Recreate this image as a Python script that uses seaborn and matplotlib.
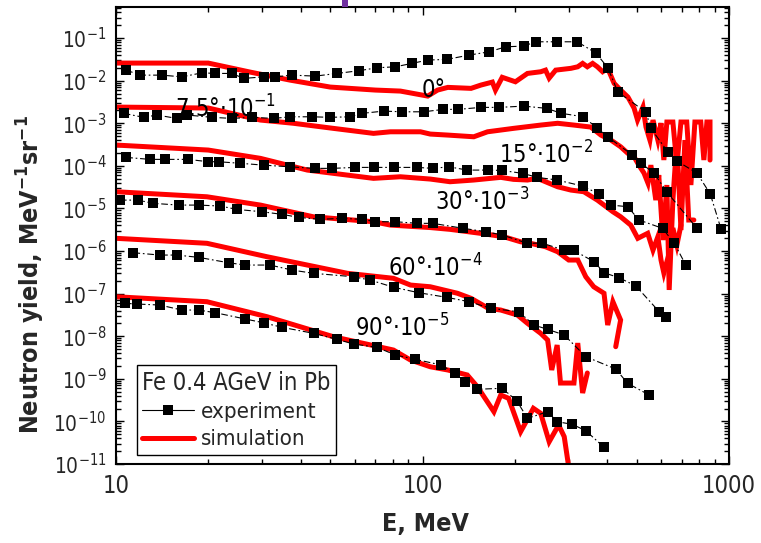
import os
import numpy as np
import pandas as pd
import matplotlib
matplotlib.use("Agg")
import matplotlib.pyplot as plt
import seaborn as sns
from matplotlib import font_manager
from matplotlib.font_manager import FontProperties
from matplotlib.lines import Line2D
from matplotlib.patches import Rectangle
from matplotlib.ticker import LogLocator, FuncFormatter, NullFormatter, FixedLocator

# ---------------- experiment (black squares) ----------------
exp_E_0 = [10.8, 12.0, 14.1, 16.4, 19.1, 21.1, 23.9, 26.1, 30.3, 33.1, 37.5, 44.7, 52.6, 61.9, 71.1, 81.6,
           92.5, 104, 120, 142, 165, 187, 214, 234, 275, 320, 368, 402, 434, 536, 556, 632, 676, 786, 869, 942]
exp_Y_0 = [1.77e-2, 1.35e-2, 1.35e-2, 1.23e-2, 1.53e-2, 1.48e-2, 1.48e-2, 1.13e-2, 1.23e-2, 1.23e-2,
           1.35e-2, 1.28e-2, 1.48e-2, 1.71e-2, 2.01e-2, 2.12e-2, 2.55e-2, 3.05e-2, 3.16e-2, 3.99e-2,
           4.77e-2, 6.25e-2, 6.49e-2, 8.19e-2, 8.19e-2, 8.19e-2, 4.45e-2, 2.03e-2, 5.40e-3, 1.83e-3,
           7.59e-4, 2.11e-4, 1.30e-4, 6.78e-5, 2.18e-5, 3.28e-6]

exp_E_7 = [10.6, 12.3, 13.6, 15.8, 17.1, 20.5, 23.9, 27.8, 32.7, 37.0, 43.6, 50.0, 58.2, 63.5, 74.7, 85.9,
           101, 117, 131, 155, 178, 214, 254, 284, 335, 372, 402, 484, 516, 570, 627, 786]
exp_Y_7 = [1.71e-3, 1.38e-3, 1.56e-3, 1.30e-3, 1.56e-3, 1.38e-3, 1.30e-3, 1.38e-3, 1.30e-3, 1.42e-3,
           1.42e-3, 1.38e-3, 1.42e-3, 1.71e-3, 1.93e-3, 1.86e-3, 1.86e-3, 2.12e-3, 2.12e-3, 2.36e-3,
           2.36e-3, 2.53e-3, 2.24e-3, 1.71e-3, 1.42e-3, 7.59e-4, 4.82e-4, 1.79e-4, 1.16e-4, 6.67e-5,
           2.43e-5, 3.41e-6]

exp_E_15 = [10.8, 12.9, 14.5, 17.2, 20.0, 21.6, 25.4, 30.3, 37.0, 44.7, 50.7, 60.4, 69.3, 80.5, 96.1, 108,
            122, 140, 163, 182, 212, 237, 275, 333, 377, 412, 467, 509, 607, 663, 723]
exp_Y_15 = [1.58e-4, 1.42e-4, 1.42e-4, 1.42e-4, 1.25e-4, 1.25e-4, 1.15e-4, 1.04e-4, 9.5e-5, 8.73e-5,
            8.73e-5, 9.2e-5, 9.2e-5, 9.2e-5, 9.2e-5, 8.73e-5, 9.5e-5, 7.96e-5, 7.96e-5, 7.8e-5,
            6.67e-5, 5.37e-5, 4.65e-5, 3.36e-5, 2.18e-5, 1.2e-5, 1.1e-5, 5.35e-6, 3.41e-6, 1.52e-6, 4.69e-7]

exp_E_30 = [10.3, 11.8, 13.2, 16.0, 18.6, 21.9, 24.8, 29.9, 34.8, 39.4, 46.4, 54.7, 63.5, 70.2, 81.6, 96.1,
            108, 136, 161, 182, 220, 245, 290, 312, 363, 391, 438, 497, 592, 622]
exp_Y_30 = [1.57e-5, 1.57e-5, 1.32e-5, 1.20e-5, 1.20e-5, 1.14e-5, 9.5e-6, 8.37e-6, 7.28e-6, 6.18e-6,
            5.55e-6, 5.86e-6, 5.55e-6, 4.88e-6, 4.88e-6, 4.47e-6, 4.47e-6, 3.41e-6, 2.84e-6, 2.38e-6,
            1.52e-6, 1.54e-6, 1.05e-6, 1.03e-6, 5.61e-7, 3.1e-7, 2.36e-7, 1.51e-7, 3.76e-8, 2.87e-8]

exp_E_60 = [11.4, 13.9, 15.8, 18.6, 23.3, 26.4, 31.8, 37.5, 44.1, 59.6, 67.6, 80.5, 97.3, 120, 142, 167,
            206, 231, 256, 290, 341, 427, 467, 549]
exp_Y_60 = [9.12e-7, 8.05e-7, 8.05e-7, 7.11e-7, 5.31e-7, 4.69e-7, 4.69e-7, 3.58e-7, 3.0e-7, 2.49e-7,
            2.08e-7, 1.41e-7, 1.05e-7, 8.18e-8, 6.46e-8, 4.52e-8, 3.76e-8, 1.83e-8, 1.45e-8, 1.07e-8,
            3.3e-9, 1.7e-9, 7.83e-10, 4.17e-10]

exp_E_90 = [10.7, 11.7, 13.9, 16.4, 18.6, 21.1, 26.4, 30.3, 34.8, 44.1, 52.6, 59.6, 71.1, 81.6, 94.8, 115,
            128, 138, 151, 182, 203, 220, 256, 275, 308, 341, 391]
exp_Y_90 = [5.92e-8, 5.7e-8, 5.4e-8, 4.12e-8, 4.12e-8, 3.56e-8, 2.54e-8, 2.07e-8, 1.62e-8, 1.17e-8,
            8.46e-9, 6.56e-9, 5.48e-9, 3.62e-9, 2.87e-9, 2.11e-9, 1.35e-9, 8.55e-10, 5.68e-10, 5.99e-10,
            3.06e-10, 1.18e-10, 1.69e-10, 9.84e-11, 8.55e-11, 6.05e-11, 2.47e-11]

# ---------------- simulation (red lines) ----------------
sim_E_0 = [10, 20.0, 27.4, 37.0, 50.0, 70.2, 84.7, 104, 112, 121, 144, 155, 169, 173, 182, 201, 220, 243,
           252, 259, 272, 305, 321, 333, 345, 359, 372, 387, 402, 422, 443, 468, 490, 503, 524, 536, 552,
           565, 586, 600, 613, 627, 656, 676, 697, 728, 751, 774, 809, 828, 847, 867, 867]
sim_Y_0 = [2.59e-2, 2.59e-2, 1.59e-2, 1.03e-2, 7.08e-3, 6.02e-3, 5.70e-3, 4.35e-3, 6.02e-3, 6.96e-3,
           6.6e-3, 7.88e-3, 9.27e-3, 6.02e-3, 1.2e-2, 9.42e-3, 1.48e-2, 1.62e-2, 1.77e-2, 1.15e-2,
           1.77e-2, 1.95e-2, 2.12e-2, 2.55e-2, 2.12e-2, 2.55e-2, 2.12e-2, 1.62e-2, 1.95e-2, 8.64e-3,
           6.02e-3, 4.12e-3, 2.28e-3, 1.19e-3, 2.4e-3, 8.15e-4, 4.03e-4, 1.19e-3, 4.03e-4, 1.01e-3,
           1.37e-4, 1.07e-3, 1.07e-3, 1.04e-4, 1.07e-3, 1.07e-3, 3.55e-5, 1.07e-3, 1.07e-3, 1.37e-4,
           1.07e-3, 1.07e-3, 1.37e-4]

sim_E_7 = [10, 20.0, 29.6, 37.9, 51.2, 69.2, 78.6, 98.5, 106, 121, 147, 163, 198, 243, 276, 312, 354, 382,
           412, 443, 468, 490, 508, 528, 544, 556, 577, 590, 609, 627, 638, 656, 676, 697, 718, 739, 768]
sim_Y_7 = [2.4e-3, 2.28e-3, 1.19e-3, 1.0e-3, 7.59e-4, 5.79e-4, 6.31e-4, 6.31e-4, 5.58e-4, 5.28e-4,
           4.82e-4, 6.31e-4, 7.59e-4, 9.07e-4, 1.0e-3, 9.07e-4, 8.15e-4, 5.28e-4, 4.03e-4, 2.81e-4,
           1.96e-4, 1.64e-4, 1.04e-4, 6.78e-5, 3.94e-5, 1.04e-4, 1.57e-5, 6.08e-5, 1.81e-6, 3.55e-5,
           1.22e-7, 1.57e-5, 4.03e-4, 3.11e-6, 4.03e-4, 5.35e-6, 5.35e-6]

sim_E_15 = [10, 20.0, 29.6, 42.1, 69.2, 84.7, 106, 123, 147, 180, 198, 220, 237, 276, 305, 336, 372, 391,
            418, 443, 478, 504, 543, 565, 586, 600, 613, 638, 656, 676, 697]
sim_Y_15 = [3.08e-4, 2.35e-4, 1.5e-4, 7.96e-5, 5.09e-5, 5.55e-5, 4.9e-5, 4.24e-5, 4.65e-5, 5.37e-5,
            4.82e-5, 4.65e-5, 5.09e-5, 3.23e-5, 2.7e-5, 2.47e-5, 1.57e-5, 1.2e-5, 8.37e-6, 6.38e-6,
            4.07e-6, 1.99e-6, 2.61e-6, 1.05e-6, 2.17e-6, 6.15e-7, 3.05e-7, 8.97e-7, 3.47e-6, 1.38e-6, 4.07e-6]

sim_E_30 = [10, 19.8, 29.6, 44.0, 69.2, 78.6, 106, 123, 155, 184, 209, 225, 252, 276, 300, 321, 341, 362,
            391, 402, 418, 443, 427]
sim_Y_30 = [2.47e-5, 1.88e-5, 1.2e-5, 6.38e-6, 4.88e-6, 4.07e-6, 3.56e-6, 3.23e-6, 2.6e-6, 2.17e-6,
            1.65e-6, 1.52e-6, 1.26e-6, 9.63e-7, 6.15e-7, 6.15e-7, 2.49e-7, 1.45e-7, 1.02e-7, 1.83e-8,
            6.46e-8, 2.4e-8, 5.68e-9]

sim_E_60 = [10, 19.8, 31.1, 56.9, 80.4, 91.4, 106, 130, 144, 164, 180, 204, 220, 243, 256, 264, 275, 282,
            312, 321, 333, 345]
sim_Y_60 = [1.99e-6, 1.52e-6, 7.35e-7, 3.0e-7, 2.29e-7, 1.59e-7, 1.45e-7, 1.02e-7, 7.76e-8, 4.52e-8,
            4.12e-8, 3.15e-8, 2.01e-8, 1.17e-8, 8.15e-9, 1.61e-9, 6.21e-9, 7.96e-10, 7.96e-10, 6.92e-9,
            4.64e-10, 1.37e-9]

sim_E_90 = [10, 19.8, 31.1, 51.2, 80.4, 91.4, 106, 121, 140, 151, 171, 180, 191, 209, 230, 243, 259, 278,
            290, 301]
sim_Y_90 = [8.45e-8, 6.46e-8, 2.87e-8, 9.73e-9, 4.74e-9, 2.76e-9, 1.92e-9, 1.61e-9, 1.23e-9, 6.53e-10,
            1.69e-10, 4.17e-10, 3.48e-10, 5.73e-11, 2.03e-10, 1.55e-10, 3.33e-11, 8.22e-11, 4.38e-11, 7.2e-12]

# ---------------- labels ----------------
angle_labels = ["0°", "7.5°·10$^{-1}$", "15°·10$^{-2}$", "30°·10$^{-3}$", "60°·10$^{-4}$", "90°·10$^{-5}$"]
label_E = [109, 22.7, 254, 157, 110, 86]
label_Y = [6.0e-3, 2.2e-3, 1.8e-4, 1.41e-5, 3.98e-7, 1.55e-8]
x_ticks = [10, 100, 1000]
legend_title = "Fe 0.4 AGeV in Pb"
legend_labels = ["experiment", "simulation"]
x_title = "E, MeV"
y_title = r"Neutron yield, MeV$^{\mathbf{-1}}$sr$^{\mathbf{-1}}$"

exp_sets = [(exp_E_0, exp_Y_0), (exp_E_7, exp_Y_7), (exp_E_15, exp_Y_15),
            (exp_E_30, exp_Y_30), (exp_E_60, exp_Y_60), (exp_E_90, exp_Y_90)]
sim_sets = [(sim_E_0, sim_Y_0), (sim_E_7, sim_Y_7), (sim_E_15, sim_Y_15),
            (sim_E_30, sim_Y_30), (sim_E_60, sim_Y_60), (sim_E_90, sim_Y_90)]

# ---------------- style ----------------
sns.set_theme(style="ticks")

cond = None
for f in font_manager.fontManager.ttflist:
    if os.path.basename(f.fname) == "DejaVuSansCondensed.ttf":
        cond = f
        break
if cond is not None:
    FAM, STR, K = cond.name, str(cond.stretch), 1.0
else:
    FAM, STR, K = "DejaVu Sans", "normal", 0.88

pat = f"{FAM}:stretch={STR}"
plt.rcParams.update({
    "font.family": [FAM],
    "font.stretch": STR,
    "mathtext.fontset": "custom",
    "mathtext.rm": pat,
    "mathtext.it": pat,
    "mathtext.sf": pat,
    "mathtext.bf": f"{FAM}:bold:stretch={STR}",
    "axes.facecolor": "white",
    "figure.facecolor": "white",
})

RED = "#ff0000"
fig = plt.figure(figsize=(7.61, 5.43), dpi=100)
ax = fig.add_axes([116 / 761, 1 - 464 / 543, (729 - 116) / 761, (464 - 7) / 543])
ax.set_xscale("log")
ax.set_yscale("log")

for E, Y in sim_sets:
    sns.lineplot(x=E, y=Y, ax=ax, color=RED, linewidth=3.6, sort=False, estimator=None,
                 solid_joinstyle="miter", zorder=2)
for E, Y in exp_sets:
    sns.lineplot(x=E, y=Y, ax=ax, color="black", linewidth=0.8, linestyle=(0, (6, 2.5, 1.5, 2.5)),
                 marker="s", markersize=6.5, markeredgewidth=0, markerfacecolor="black",
                 sort=False, estimator=None, zorder=3)

ax.set_xlim(10, 1000)
ax.set_ylim(1e-11, 10 ** -0.27)

ax.xaxis.set_major_locator(FixedLocator(x_ticks))
ax.xaxis.set_major_formatter(FuncFormatter(lambda v, p: f"{v:g}"))
ax.xaxis.set_minor_locator(LogLocator(base=10, subs=np.arange(2, 10), numticks=50))
ax.xaxis.set_minor_formatter(NullFormatter())
ax.yaxis.set_major_locator(LogLocator(base=10, numticks=40))
ax.yaxis.set_major_formatter(FuncFormatter(lambda v, p: rf"$10^{{{int(round(np.log10(v)))}}}$"))
ax.yaxis.set_minor_locator(LogLocator(base=10, subs=np.arange(2, 10), numticks=300))
ax.yaxis.set_minor_formatter(NullFormatter())

ax.tick_params(which="both", direction="in", top=True, right=True, color="black", width=1.0)
ax.tick_params(which="major", length=6)
ax.tick_params(which="minor", length=3.5)
ax.tick_params(axis="y", which="major", labelsize=15 * K, pad=7)
ax.tick_params(axis="x", which="major", labelsize=17 * K, pad=7)
for s in ax.spines.values():
    s.set_linewidth(1.5)
    s.set_color("black")
ax.grid(False)

fp_bold = FontProperties(family=FAM, stretch=STR, weight="bold", size=18 * K)
ax.set_xlabel(x_title, fontproperties=fp_bold)
ax.set_ylabel(y_title, fontproperties=fp_bold)
ax.xaxis.set_label_coords(0.504, -0.105)
ax.yaxis.set_label_coords(-0.112, 0.414)

for lab, e, y in zip(angle_labels, label_E, label_Y):
    ax.text(e, y, lab, ha="center", va="center", fontsize=17 * K, color="black", zorder=4)

handles = [Line2D([], [], color="black", lw=0.8, marker="s", markersize=6.5, markeredgewidth=0),
           Line2D([], [], color=RED, lw=3.6)]
leg = ax.legend(handles, legend_labels, title=legend_title, loc="lower left",
                bbox_to_anchor=(0.034, 0.02), borderaxespad=0, frameon=True, fancybox=False,
                edgecolor="black", framealpha=1, fontsize=16 * K, title_fontsize=17 * K,
                handlelength=2.3, handletextpad=0.35, labelspacing=0.33, borderpad=0.25,
                alignment="left")
leg.get_frame().set_linewidth(1.0)
leg.set_zorder(5)

fig.patches.append(Rectangle((341.7 / 761, 1 - 7 / 543), 6.6 / 761, 7 / 543,
                             transform=fig.transFigure, facecolor="#7030a0", edgecolor="none"))

fig.savefig("out.png", dpi=100)
